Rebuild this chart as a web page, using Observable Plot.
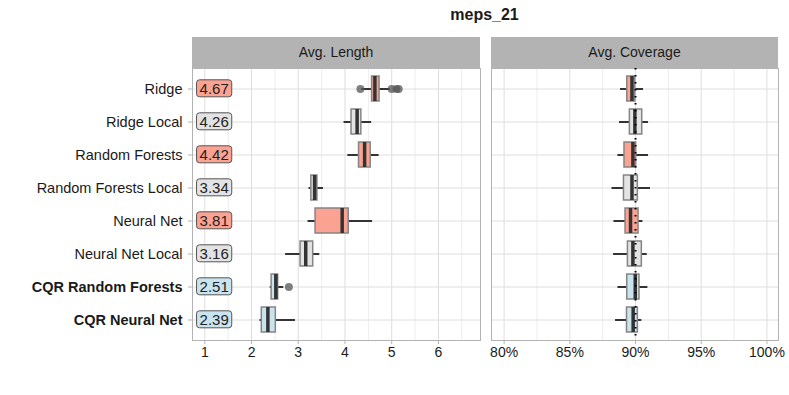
<!DOCTYPE html>
<html>
<head>
<meta charset="utf-8">
<script src="https://cdn.jsdelivr.net/npm/d3@7"></script>
<script src="https://cdn.jsdelivr.net/npm/@observablehq/plot@0.6"></script>
<style>
  html, body { margin: 0; padding: 0; background: #fff; }
  #wrap { position: relative; width: 789px; height: 395px; font-family: "Liberation Sans", Arial, sans-serif; color: #1a1a1a; }
  .title { position: absolute; left: 0; width: 969px; top: 6px; text-align: center; font-weight: bold; font-size: 16px; }
  .strip { position: absolute; top: 37px; height: 31px; line-height: 31px; background: #B3B3B3; text-align: center; font-size: 14px; color: #1a1a1a; }
  .panel { position: absolute; top: 67px; }
</style>
</head>
<body>
<div id="wrap">
  <div class="title">meps_21</div>
  <div class="strip" style="left:192px;width:288px;">Avg. Length</div>
  <div class="strip" style="left:491px;width:287px;">Avg. Coverage</div>
  <div class="panel" id="left" style="left:0px;"></div>
  <div class="panel" id="right" style="left:486px;"></div>
</div>
<script>
const methods = ["Ridge", "Ridge Local", "Random Forests", "Random Forests Local", "Neural Net", "Neural Net Local", "CQR Random Forests", "CQR Neural Net"];
const groups  = ["base", "local", "base", "local", "base", "local", "cqr", "cqr"];
const meanLength = [4.67, 4.26, 4.42, 3.34, 3.81, 3.16, 2.51, 2.39];

// Avg. Length box statistics
const lenLo  = [4.36, 3.98, 4.06, 3.23, 3.21, 2.73, 2.40, 2.18];
const lenQ1  = [4.58, 4.14, 4.30, 3.28, 3.37, 3.05, 2.43, 2.22];
const lenMed = [4.64, 4.26, 4.42, 3.35, 3.94, 3.16, 2.52, 2.35];
const lenQ3  = [4.74, 4.35, 4.55, 3.41, 4.08, 3.32, 2.57, 2.52];
const lenHi  = [4.97, 4.57, 4.73, 3.54, 4.59, 3.46, 2.69, 2.94];
const lenOutMethod = ["Ridge", "Ridge", "Ridge", "Ridge", "CQR Random Forests"];
const lenOutValue  = [4.33, 5.00, 5.10, 5.15, 2.80];

// Avg. Coverage box statistics (%)
const covLo  = [88.86, 88.78, 88.66, 88.21, 88.36, 88.33, 88.66, 88.48];
const covQ1  = [89.37, 89.57, 89.16, 89.12, 89.24, 89.42, 89.37, 89.35];
const covMed = [89.73, 89.95, 89.80, 89.73, 89.62, 89.80, 89.98, 89.82];
const covQ3  = [89.98, 90.51, 90.05, 90.18, 90.23, 90.48, 90.30, 90.18];
const covHi  = [90.61, 90.99, 90.99, 91.14, 90.56, 90.89, 90.94, 90.48];
const covTarget = [90];

const lengthTicks = [1, 2, 3, 4, 5, 6];
const lengthMinor = [1.5, 2.5, 3.5, 4.5, 5.5, 6.5];
const coverageTicks = [80, 85, 90, 95, 100];
const coverageMinor = [82.5, 87.5, 92.5, 97.5];

const groupDomain = ["base", "local", "cqr"];
const groupColors = ["#FBA292", "#E3E3E3", "#C9E4EE"];
const labelX = 1.2;

const lenRows = methods.map((m, i) => ({method: m, group: groups[i], mean: meanLength[i], lo: lenLo[i], q1: lenQ1[i], med: lenMed[i], q3: lenQ3[i], hi: lenHi[i]}));
const covRows = methods.map((m, i) => ({method: m, group: groups[i], lo: covLo[i], q1: covQ1[i], med: covMed[i], q3: covQ3[i], hi: covHi[i]}));
const lenOut = lenOutMethod.map((m, i) => ({method: m, value: lenOutValue[i]}));

const common = {
  height: 303, marginTop: 1, marginBottom: 30,
  style: {fontFamily: "Liberation Sans, Arial, sans-serif", fontSize: "14px", color: "#1a1a1a", background: "transparent", overflow: "visible"},
  y: {domain: methods, paddingInner: 0.25, paddingOuter: 0.225, axis: null},
  color: {domain: groupDomain, range: groupColors}
};

function boxMarks(rows) {
  return [
    Plot.ruleY(rows, {y: "method", x1: "lo", x2: "hi", stroke: "#333", strokeWidth: 2}),
    Plot.barX(rows, {y: "method", x1: "q1", x2: "q3", fill: "group", stroke: "#858585", strokeWidth: 1.5}),
    Plot.tickX(rows, {y: "method", x: "med", stroke: "#333", strokeWidth: 3.5})
  ];
}

const left = Plot.plot({
  ...common,
  width: 481, marginLeft: 192, marginRight: 1,
  x: {domain: [0.737, 6.9], axis: null},
  marks: [
    Plot.ruleX(lengthMinor, {stroke: "#EDEDED"}),
    Plot.ruleX(lengthTicks, {stroke: "#DEDEDE"}),
    Plot.ruleY(methods, {y: d => d, stroke: "#DEDEDE"}),
    Plot.frame({stroke: "#B3B3B3"}),
    Plot.axisX(lengthTicks, {tickSize: 4, tickPadding: 3, stroke: "#B3B3B3", fill: "#1a1a1a", label: null, fontSize: 14}),
    Plot.axisY({tickSize: 4, tickPadding: 6, stroke: "#B3B3B3", fill: "#1a1a1a", label: null, fontSize: 14.5}),
    ...boxMarks(lenRows),
    Plot.dot(lenOut, {y: "method", x: "value", r: 4, fill: "#555", fillOpacity: 0.75, stroke: "none"}),
    Plot.text(lenRows, {y: "method", x: () => labelX, text: d => d.mean.toFixed(2), fontSize: 15, fill: "#222"})
  ]
});

const right = Plot.plot({
  ...common,
  width: 303, marginLeft: 5, marginRight: 11,
  x: {domain: [79.04, 100.88], axis: null},
  marks: [
    Plot.ruleX(coverageMinor, {stroke: "#EDEDED"}),
    Plot.ruleX(coverageTicks, {stroke: "#DEDEDE"}),
    Plot.ruleY(methods, {y: d => d, stroke: "#DEDEDE"}),
    Plot.frame({stroke: "#B3B3B3"}),
    Plot.axisX(coverageTicks, {tickSize: 4, tickPadding: 3, stroke: "#B3B3B3", fill: "#1a1a1a", label: null, fontSize: 14, tickFormat: d => d + "%"}),
    ...boxMarks(covRows),
    Plot.ruleX(covTarget, {stroke: "#000", strokeWidth: 2, strokeDasharray: "1.5,5.5"})
  ]
});

document.getElementById("left").appendChild(left);
document.getElementById("right").appendChild(right);

// bold CQR labels
left.querySelectorAll('g[aria-label="y-axis tick label"] text').forEach(t => {
  if (t.textContent.startsWith("CQR")) t.setAttribute("font-weight", "bold");
});

// label boxes behind mean values
const colorOf = Object.fromEntries(groupDomain.map((g, i) => [g, groupColors[i]]));
const labelGroup = left.querySelector('g[aria-label="text"]');
if (labelGroup) {
  const texts = Array.from(labelGroup.querySelectorAll("text"));
  texts.forEach((t, i) => {
    const b = t.getBBox();
    const cy = b.y + b.height / 2;
    const r = document.createElementNS("http://www.w3.org/2000/svg", "rect");
    const w = b.width + 6, h = 17;
    r.setAttribute("x", b.x - 3);
    r.setAttribute("y", cy - h / 2);
    r.setAttribute("width", w);
    r.setAttribute("height", h);
    r.setAttribute("rx", 3);
    r.setAttribute("fill", colorOf[lenRows[i].group]);
    r.setAttribute("stroke", "#555");
    r.setAttribute("stroke-width", 1);
    const tr = t.getAttribute("transform");
    if (tr) r.setAttribute("transform", tr);
    labelGroup.insertBefore(r, t);
  });
}
</script>
</body>
</html>
